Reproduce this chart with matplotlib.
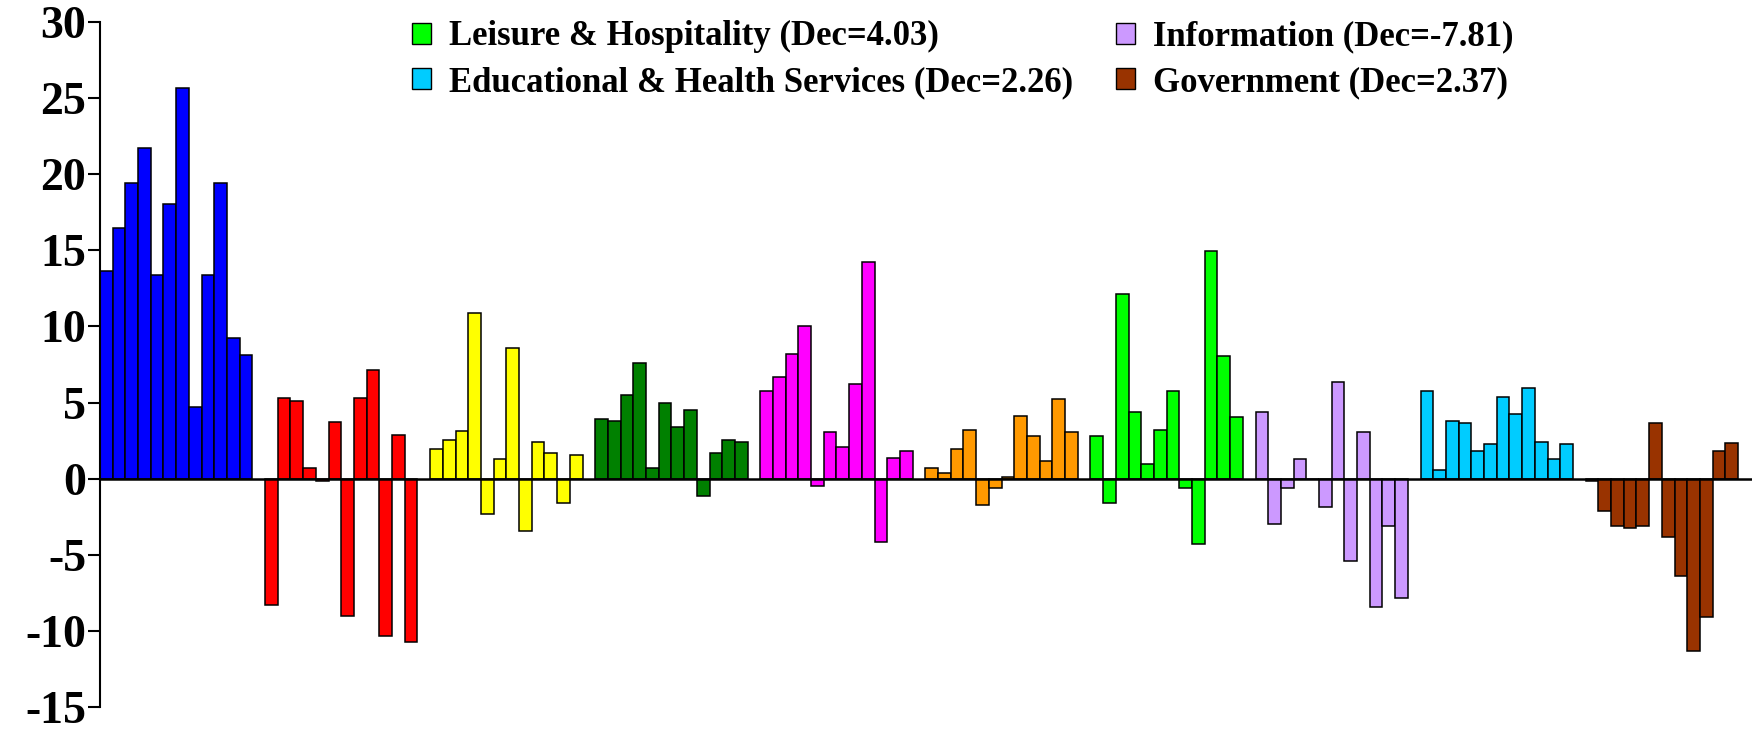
import numpy as np
import matplotlib.pyplot as plt
from matplotlib.patches import Patch

# monthly values (Jan..Dec) per sector
sector_names = ['Mining & Logging', 'Construction', 'Manufacturing',
                'Trade, Transportation & Utilities', 'Financial Activities',
                'Professional & Business Services', 'Leisure & Hospitality',
                'Information', 'Educational & Health Services', 'Government']
sector_colors = ['#0000FF', '#FF0000', '#FFFF00', '#008000', '#FF00FF',
                 '#FF9900', '#00FF00', '#CC99FF', '#00CCFF', '#993300']

mining = [13.61, 16.49, 19.44, 21.69, 13.36, 18.02, 25.64, 4.74, 13.36, 19.44, 9.27, 8.13]
construction = [-8.3, 5.28, 5.11, 0.7, -0.17, 3.69, -9.04, 5.28, 7.14, -10.33, 2.86, -10.74]
manufacturing = [1.97, 2.53, 3.12, 10.87, -2.31, 1.27, 8.61, -3.47, 2.4, 1.68, -1.59, 1.55]
trade = [3.94, 3.81, 5.5, 7.62, 0.69, 4.94, 3.38, 4.5, -1.15, 1.67, 2.53, 2.38]
financial = [5.78, 6.65, 8.2, 10.04, -0.45, 3.09, 2.1, 6.21, 14.26, -4.13, 1.39, 1.82]
professional = [0.69, 0.39, 1.95, 3.22, -1.71, -0.61, 0.11, 4.09, 2.81, 1.13, 5.22, 3.07]
leisure = [2.81, -1.58, 12.16, 4.37, 0.97, 3.22, 5.78, -0.61, -4.29, 14.98, 8.03, 4.03]
information = [4.35, -3.01, -0.61, 1.26, 0.0, -1.86, 6.32, -5.41, 3.07, -8.4, -3.14, -7.81]
education = [5.78, 0.54, 3.79, 3.66, 1.82, 2.25, 5.37, 4.24, 5.93, 2.38, 1.26, 2.26]
government = [-0.15, -2.14, -3.14, -3.27, -3.14, 3.64, -3.85, -6.38, -11.34, -9.09, 1.8, 2.37]

series = [mining, construction, manufacturing, trade, financial,
          professional, leisure, information, education, government]
legend_order = [6, 8, 7, 9]   # sectors shown in the legend (column-wise)

plt.rcParams['font.family'] = ['Liberation Serif', 'DejaVu Serif']
plt.rcParams['font.weight'] = 'bold'
plt.rcParams['axes.unicode_minus'] = False

fig = plt.figure(figsize=(17.52, 7.31), dpi=100)
ax = fig.add_axes([100 / 1752, 1 - 707 / 731, 1 - 100 / 1752, (707 - 22) / 731])

for g, vals in enumerate(series):
    x = g * 13 + np.arange(len(vals))
    ax.bar(x, vals, width=1.0, align='center', color=sector_colors[g],
           edgecolor='black', linewidth=1.1)

ax.set_xlim(-0.5, 129.6)
ax.set_ylim(-15, 30)
ax.set_yticks(np.arange(-15, 31, 5))
ax.set_xticks([])
ax.tick_params(axis='y', direction='out', length=9, width=1.5,
               labelsize=33, pad=1)
for lab in ax.get_yticklabels():
    lab.set_fontweight('bold')

ax.spines['top'].set_visible(False)
ax.spines['right'].set_visible(False)
ax.spines['bottom'].set_visible(False)
ax.spines['left'].set_linewidth(1.5)
ax.axhline(0, color='black', linewidth=1.8, zorder=3)

handles = [Patch(facecolor=sector_colors[i], edgecolor='black', linewidth=1.0,
                 label=f'{sector_names[i]} (Dec={series[i][-1]:.2f})')
           for i in legend_order]
fig.legend(handles=handles, ncol=2, loc='upper left',
           bbox_to_anchor=(395 / 1752, 1 - 3 / 731), frameon=False,
           prop={'family': 'Liberation Serif', 'weight': 'bold', 'size': 25},
           handlelength=0.55, handleheight=0.55, handletextpad=0.5,
           columnspacing=1.25, labelspacing=0.36, borderpad=0.0)

fig.savefig('out.png', dpi=100)
